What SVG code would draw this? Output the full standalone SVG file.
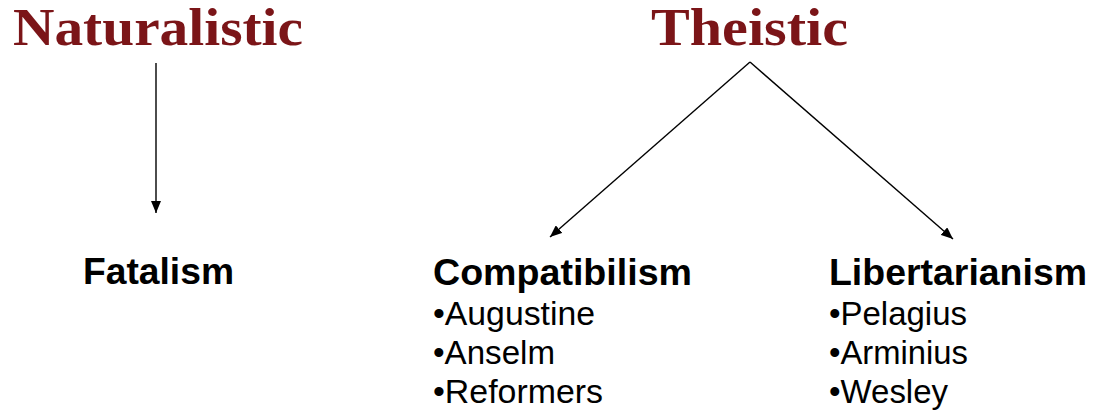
<svg xmlns="http://www.w3.org/2000/svg" width="1098" height="416" viewBox="0 0 1098 416">
<style>
.title{font-family:"Liberation Serif",serif;font-weight:bold;font-size:52px;fill:#7b1518}
.head{font-family:"Liberation Sans",Arial,sans-serif;font-weight:bold;font-size:36px;fill:#000}
.item{font-family:"Liberation Sans",Arial,sans-serif;font-size:33px;fill:#000}
.conn{stroke:#000;stroke-width:1.4;fill:none;marker-end:url(#arr)}
</style>
<defs>
<marker id="arr" viewBox="0 0 12 10" refX="12" refY="5" markerWidth="12" markerHeight="10" markerUnits="userSpaceOnUse" orient="auto">
<path d="M0,0 L12,5 L0,10 z" fill="#000"/>
</marker>
</defs>
<rect width="1098" height="416" fill="#fff"/>
<g id="naturalistic"><text class="title" x="13" y="45" textLength="290" lengthAdjust="spacingAndGlyphs">Naturalistic</text></g>
<g id="theistic"><text class="title" x="651" y="45" textLength="197" lengthAdjust="spacingAndGlyphs">Theistic</text></g>
<g id="fatalism"><text class="head" x="83" y="284" textLength="151" lengthAdjust="spacingAndGlyphs">Fatalism</text></g>
<g id="compatibilism">
<text class="head" x="433" y="285" textLength="259" lengthAdjust="spacingAndGlyphs">Compatibilism</text>
<text class="item" x="433" y="325" textLength="162" lengthAdjust="spacingAndGlyphs">•Augustine</text>
<text class="item" x="433" y="364" textLength="122" lengthAdjust="spacingAndGlyphs">•Anselm</text>
<text class="item" x="433" y="403" textLength="170" lengthAdjust="spacingAndGlyphs">•Reformers</text>
</g>
<g id="libertarianism">
<text class="head" x="829" y="285" textLength="258" lengthAdjust="spacingAndGlyphs">Libertarianism</text>
<text class="item" x="829" y="325" textLength="138" lengthAdjust="spacingAndGlyphs">•Pelagius</text>
<text class="item" x="829" y="364" textLength="139" lengthAdjust="spacingAndGlyphs">•Arminius</text>
<text class="item" x="829" y="403" textLength="119" lengthAdjust="spacingAndGlyphs">•Wesley</text>
</g>
<g id="connectors">
<path class="conn" d="M156,63 L156,213"/>
<path class="conn" d="M750,62 L550,237"/>
<path class="conn" d="M750,62 L953,239"/>
</g>
</svg>
